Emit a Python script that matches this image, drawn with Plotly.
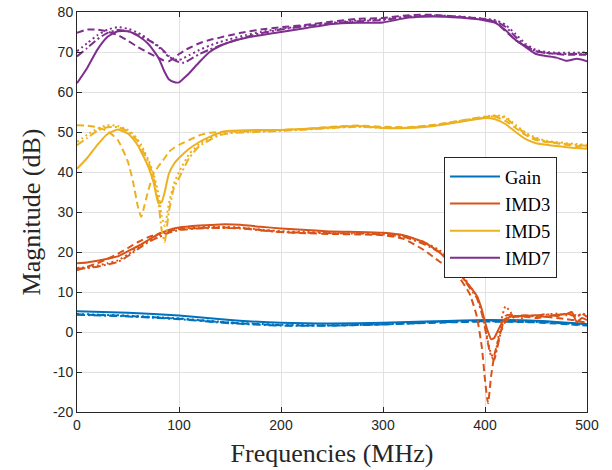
import plotly.graph_objects as go

# ---------------- data ----------------
gain_x = [0, 50, 100, 150, 200, 250, 300, 350, 400, 450, 500]
gain_solid = [5.2, 4.8, 4.1, 3.0, 2.3, 2.1, 2.3, 2.7, 3.0, 2.8, 2.0]
gain_dash = [4.4, 4.0, 3.3, 2.3, 1.7, 1.6, 1.9, 2.3, 2.6, 2.4, 1.6]
gain_dashdot = [4.3, 3.9, 3.2, 2.2, 1.6, 1.6, 1.9, 2.4, 2.7, 2.5, 1.8]
gain_dot = [4.5, 4.1, 3.4, 2.4, 1.8, 1.7, 2.0, 2.5, 2.8, 2.6, 1.9]

imd3_x = [0, 10, 20, 30, 40, 50, 60, 70, 80, 90,
          100, 120, 140, 160, 180, 200,
          225, 250, 275, 300,
          320, 340, 355, 365, 375, 385,
          392, 397, 400, 403, 406, 409, 412, 416, 420,
          425, 430, 440, 450, 460, 470, 480, 485, 490, 495, 500]
imd3_solid = [17.2, 17.4, 17.8, 18.3, 18.9, 20.2, 21.5, 23.0, 24.5, 25.5,
              26.1, 26.6, 26.9, 26.8, 26.3, 25.9,
              25.5, 25.1, 25.0, 24.8,
              24.2, 22.5, 20.0, 17.5, 14.5, 11.5,
              9.0, 5.5, 2.5, 0.0, -1.8, -1.5, 0.0, 2.0, 3.3,
              3.8, 4.0, 4.0, 4.2, 3.8, 4.3, 4.5, 5.0, 2.5, 3.5, 3.0]
imd3_dash = [15.4, 16.3, 17.2, 18.3, 19.5, 21.0, 22.5, 23.7, 24.6, 25.2,
             25.7, 26.0, 26.1, 26.0, 25.5, 25.0,
             24.7, 24.5, 24.4, 24.2,
             23.3, 20.5, 17.7, 16.0, 13.5, 9.5,
             3.9, -4.0, -12.0, -17.8, -11.0, -6.0, -3.0, 0.5, 2.5,
             3.6, 3.8, 3.8, 3.5, 3.8, 3.5, 3.2, 3.0, 3.0, 2.5, 2.5]
imd3_dashdot = [15.8, 16.0, 16.3, 16.9, 17.5, 19.0, 20.8, 22.5, 23.7, 24.8,
                25.5, 25.9, 26.0, 25.9, 25.4, 25.0,
                24.8, 24.7, 24.6, 24.4,
                23.8, 22.0, 20.0, 18.0, 14.8, 11.0,
                8.5, 4.5, 1.0, -3.0, -6.0, -6.9, -4.0, 0.5, 4.0,
                4.3, 4.0, 4.2, 4.0, 4.5, 4.0, 4.6, 4.2, 3.8, 4.5, 3.8]
imd3_dot = [16.0, 16.2, 16.6, 17.2, 17.9, 19.4, 21.2, 22.9, 24.2, 25.2,
            25.8, 26.2, 26.3, 26.1, 25.6, 25.2,
            25.0, 24.9, 24.8, 24.6,
            24.0, 22.5, 20.5, 18.5, 15.5, 11.5,
            9.0, 5.0, 1.5, -2.5, -5.5, -6.5, -3.0, 3.0, 6.4,
            5.0, 3.0, 3.8, 4.0, 4.3, 4.6, 4.2, 4.8, 4.0, 4.6, 4.2]

imd5_x = [0, 10, 20, 30, 40, 50,
          55, 60, 63, 66, 70, 75,
          80, 83, 86, 90, 95, 100,
          110, 120, 130, 140, 150,
          175, 200, 225, 250, 275, 300,
          325, 350, 375, 400,
          410, 420, 430, 440, 450, 460, 470, 480, 490, 500]
imd5_solid = [40.8, 43.5, 46.8, 49.5, 50.6, 49.6,
              48.3, 46.5, 45.0, 43.5, 41.2, 37.5,
              32.1, 32.5, 35.0, 39.5, 42.0, 43.5,
              45.8, 47.5, 48.8, 49.8, 50.3,
              50.5, 50.5, 50.8, 51.2, 51.5, 51.0,
              51.0, 51.5, 52.5, 53.5,
              53.2, 52.0, 50.0, 48.2, 47.2, 46.8, 46.5, 46.2, 46.0, 45.8]
imd5_dash = [51.7, 51.6, 51.2, 50.2, 48.0, 42.5,
             37.5, 31.0, 28.8, 31.5, 35.5, 39.5,
             41.5, 42.5, 43.5, 45.0, 46.0, 46.8,
             48.0, 49.2, 49.8, 50.0, 50.2,
             50.3, 50.5, 50.8, 51.3, 51.6, 51.3,
             51.2, 51.8, 52.8, 53.8,
             53.8, 52.8, 51.0, 49.2, 48.0, 47.5, 47.2, 46.8, 46.5, 46.3]
imd5_dashdot = [46.7, 48.5, 50.3, 51.2, 51.2, 50.2,
                49.0, 47.5, 46.0, 44.5, 42.5, 38.8,
                32.0, 25.5, 22.5, 30.0, 36.0, 38.5,
                43.5, 46.5, 48.0, 49.2, 49.7,
                50.0, 50.3, 50.6, 51.0, 51.3, 51.0,
                51.0, 51.6, 52.6, 53.6,
                54.0, 53.5, 51.5, 49.5, 48.3, 47.6, 47.3, 47.0, 46.8, 46.5]
imd5_dot = [47.5, 49.3, 50.8, 51.7, 51.5, 50.5,
            49.5, 48.0, 46.8, 45.2, 43.0, 39.5,
            34.5, 29.0, 26.5, 32.0, 37.0, 40.0,
            44.5, 47.0, 48.5, 49.5, 49.9,
            50.2, 50.4, 50.7, 51.1, 51.4, 51.1,
            51.1, 51.7, 52.8, 53.8,
            54.2, 53.8, 51.8, 49.8, 48.6, 47.8, 47.5, 47.2, 47.0, 46.8]

imd7_x = [0, 10, 20, 30, 40, 50, 60, 70, 80,
          85, 90, 95, 100, 105, 110,
          120, 130, 140, 150, 165, 180,
          200, 225, 250, 275, 300,
          325, 350, 375, 400,
          410, 420, 430, 440, 450, 460, 470, 480, 490, 500]
imd7_solid = [62.2, 66.0, 70.6, 73.8, 75.2, 75.2, 74.0, 72.0, 68.5,
              65.5, 63.2, 62.5, 62.4, 63.5, 64.7,
              67.5, 70.0, 71.5, 72.5, 73.5, 74.2,
              75.0, 76.0, 77.0, 77.3, 77.4,
              78.6, 78.9, 78.6, 77.9,
              77.3, 75.5, 73.0, 71.2, 69.5, 69.0, 68.6, 67.8, 68.3, 67.7]
imd7_dash = [74.8, 75.6, 75.6, 75.1, 74.2, 72.8, 71.2, 69.8, 68.5,
             67.9, 67.7, 68.5, 69.5, 70.3, 71.0,
             72.2, 73.0, 73.6, 74.2, 75.0, 75.6,
             76.2, 76.8, 77.6, 78.3, 78.5,
             79.2, 79.3, 78.8, 78.2,
             77.5, 75.2, 73.0, 71.5, 70.2, 69.8, 69.5, 69.3, 69.3, 69.3]
imd7_dashdot = [68.9, 71.0, 73.2, 74.8, 75.5, 75.2, 74.2, 73.0, 71.5,
                70.3, 69.0, 68.0, 67.5, 67.3, 68.0,
                69.5, 70.6, 71.6, 72.5, 73.7, 74.7,
                75.6, 76.5, 77.2, 77.7, 78.0,
                78.8, 79.0, 78.7, 78.1,
                77.7, 76.3, 73.8, 71.5, 70.2, 69.7, 69.6, 69.5, 69.5, 69.5]
imd7_dot = [70.2, 72.2, 74.2, 75.6, 76.2, 75.8, 74.8, 73.2, 71.2,
            70.0, 68.8, 68.2, 68.0, 68.5, 69.2,
            70.5, 71.6, 72.5, 73.2, 74.2, 75.0,
            75.8, 76.6, 77.3, 77.9, 78.2,
            78.9, 79.1, 78.9, 78.3,
            78.0, 76.8, 74.5, 72.0, 70.5, 70.0, 69.8, 69.8, 69.8, 69.9]

series_names = ["Gain", "IMD3", "IMD5", "IMD7"]
series_colors = ["#0072BD", "#D95319", "#EDB120", "#7E2F8E"]

x_ticks = [0, 100, 200, 300, 400, 500]
y_ticks = [-20, -10, 0, 10, 20, 30, 40, 50, 60, 70, 80]
y_tick_labels = [str(v) for v in y_ticks]

SERIF = "Liberation Serif, Times New Roman, Times, DejaVu Serif, serif"
SANS = "Liberation Sans, Arial, Helvetica, sans-serif"

# ---------------- figure ----------------
groups = [
    (gain_x, [gain_solid, gain_dash, gain_dashdot, gain_dot]),
    (imd3_x, [imd3_solid, imd3_dash, imd3_dashdot, imd3_dot]),
    (imd5_x, [imd5_solid, imd5_dash, imd5_dashdot, imd5_dot]),
    (imd7_x, [imd7_solid, imd7_dash, imd7_dashdot, imd7_dot]),
]
dash_styles = ["solid", "7px,4px", "8px,3px,2px,3px", "2px,3px"]

fig = go.Figure()
for name, color, (xs, ys_list) in zip(series_names, series_colors, groups):
    for k, (ys, dstyle) in enumerate(zip(ys_list, dash_styles)):
        fig.add_trace(go.Scatter(
            x=xs, y=ys, mode="lines",
            name=name, legendgroup=name,
            showlegend=(k == 0),
            line=dict(color=color, width=2, dash=dstyle, shape="spline", smoothing=0.5),
            hoverinfo="skip",
        ))

axis_common = dict(
    showline=True, linecolor="#262626", linewidth=1, mirror="ticks",
    ticks="inside", ticklen=5, tickcolor="#262626", tickwidth=1,
    showgrid=True, gridcolor="#e2e2e2", gridwidth=1, zeroline=False,
    tickfont=dict(family=SANS, size=14, color="#262626"),
    automargin=False, ticklabeloverflow="allow",
)

fig.update_layout(
    width=612, height=470,
    margin=dict(l=77, r=25, t=12, b=58),
    paper_bgcolor="white", plot_bgcolor="white",
    xaxis=dict(range=[0, 500], tickvals=x_ticks,
               title=dict(text="Frequencies (MHz)",
                          font=dict(family=SERIF, size=26, color="#262626"),
                          standoff=12),
               **axis_common),
    yaxis=dict(range=[-20, 80], tickvals=y_ticks, ticktext=y_tick_labels,
               title=dict(text="Magnitude (dB)",
                          font=dict(family=SERIF, size=26, color="#262626"),
                          standoff=4),
               **axis_common),
    legend=dict(x=0.7196, y=0.6375, xanchor="left", yanchor="top",
                bgcolor="white", bordercolor="#262626", borderwidth=1,
                font=dict(family=SERIF, size=18.5, color="#000000"),
                itemwidth=50, tracegroupgap=0),
    showlegend=True,
)

# remove the browser's default 8px body margin so the figure fills the window
fig.write_html("out.html", config={"displayModeBar": False},
               post_script="document.body.style.margin='0px';")
